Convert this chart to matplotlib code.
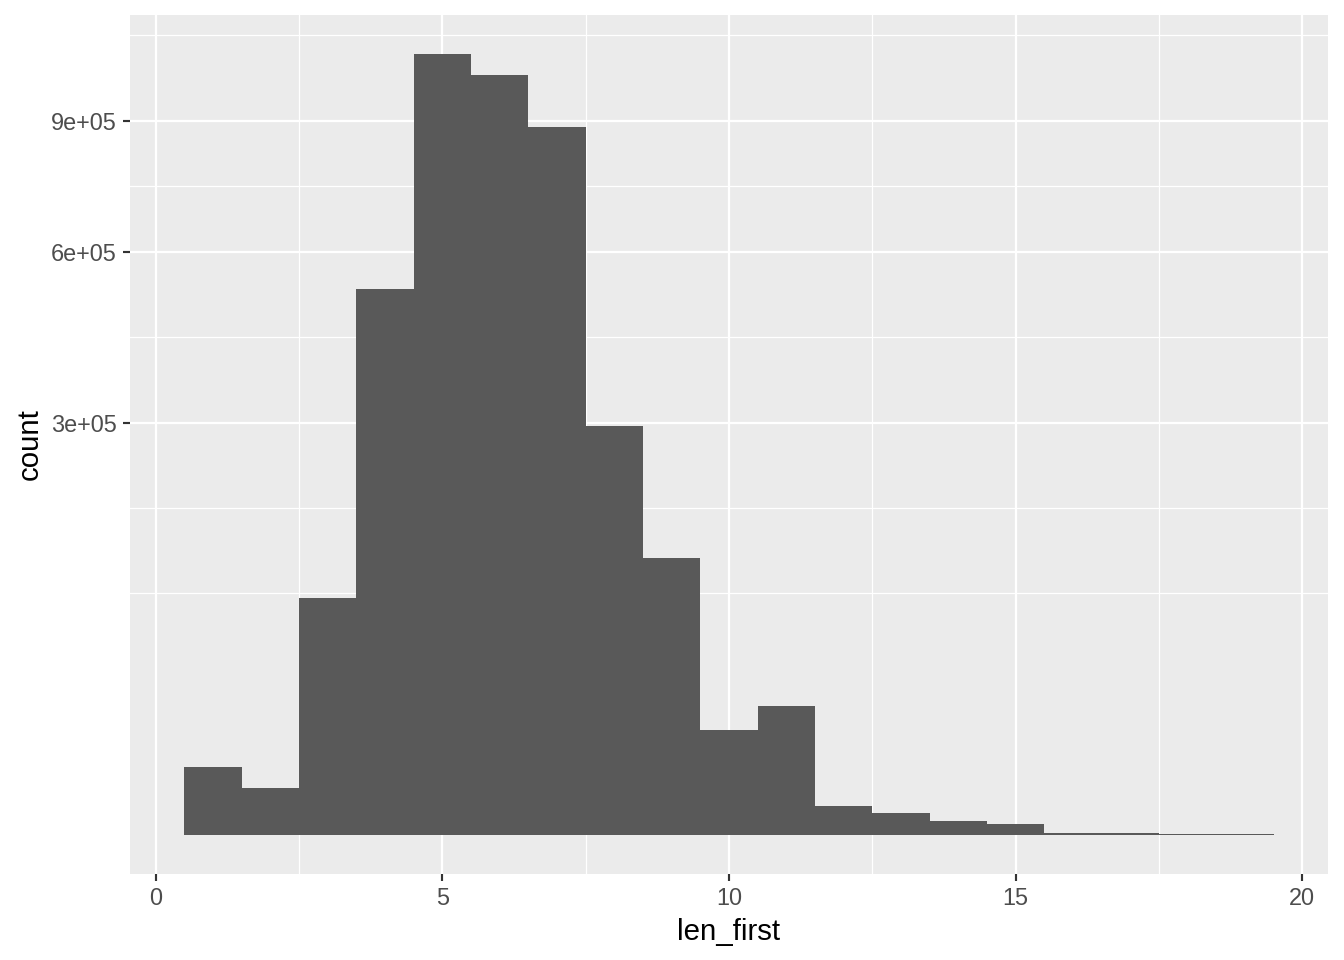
import numpy as np
import matplotlib.pyplot as plt
from matplotlib.ticker import FixedLocator

# histogram of len_first, bin width 1 (counts)
bin_centers = [1, 2, 3, 4, 5, 6, 7, 8, 9, 10, 11, 12, 13, 14, 15, 16, 17, 18, 19]
counts = [8150, 3900, 99000, 525800, 1075800, 1018700, 884000, 295000, 135300,
          19440, 29480, 1480, 850, 346, 213, 7, 6, 3, 2]
y_breaks = [3e5, 6e5, 9e5]
y_labels = ['3e+05', '6e+05', '9e+05']
x_breaks = [0, 5, 10, 15, 20]
x_minor = [2.5, 7.5, 12.5, 17.5]

plt.rcParams['font.family'] = ['Liberation Sans', 'DejaVu Sans']
k = 4 / 3  # reference was rendered at a larger scale than 144 dpi


def fwd(v):
    v = np.asarray(v, dtype=float)
    return np.sign(v) * np.sqrt(np.abs(v))


def inv(v):
    v = np.asarray(v, dtype=float)
    return np.sign(v) * v ** 2


fig = plt.figure(figsize=(1344 / 144, 960 / 144), dpi=144)
ax = fig.add_axes([130 / 1344, (960 - 874) / 960, (1328 - 130) / 1344, (874 - 15) / 960])
ax.set_facecolor('#EBEBEB')
ax.set_yscale('function', functions=(fwd, inv))

ax.bar(bin_centers, counts, width=1.0, color='#595959', linewidth=0)

# ggplot-style expansion in transformed space
lo_x, hi_x = min(bin_centers) - 0.5, max(bin_centers) + 0.5
ax.set_xlim(lo_x - 0.05 * (hi_x - lo_x), hi_x + 0.05 * (hi_x - lo_x))
top = np.sqrt(max(counts))
ax.set_ylim(inv(-0.05 * top), inv(1.05 * top))

# minor breaks: midpoints between major breaks in sqrt space, extended one step
b = list(fwd(y_breaks))
bd = b[1] - b[0]
b = [b[0] - bd] + b + [b[-1] + bd]
y_minor = [b[0]] + [(b[i] + b[i + 1]) / 2 for i in range(len(b) - 1)]
y_minor = list(inv(y_minor))

ax.yaxis.set_major_locator(FixedLocator(y_breaks))
ax.set_yticklabels(y_labels)
ax.yaxis.set_minor_locator(FixedLocator(y_minor))
ax.set_xticks(x_breaks)
ax.set_xticks(x_minor, minor=True)

ax.grid(which='major', color='white', linewidth=1.1)
ax.grid(which='minor', color='white', linewidth=0.6)
ax.set_axisbelow(True)
for s in ax.spines.values():
    s.set_visible(False)

ax.tick_params(which='major', length=2.75 * k, width=1.07, color='#333333',
               labelsize=8.8 * k, labelcolor='#4D4D4D', pad=2.2 * k)
ax.tick_params(which='minor', length=0)

ax.set_xlabel('len_first', fontsize=11 * k, labelpad=2.75 * k)
ax.set_ylabel('count', fontsize=11 * k, labelpad=2.75 * k)

fig.savefig('out.png', dpi=144)
